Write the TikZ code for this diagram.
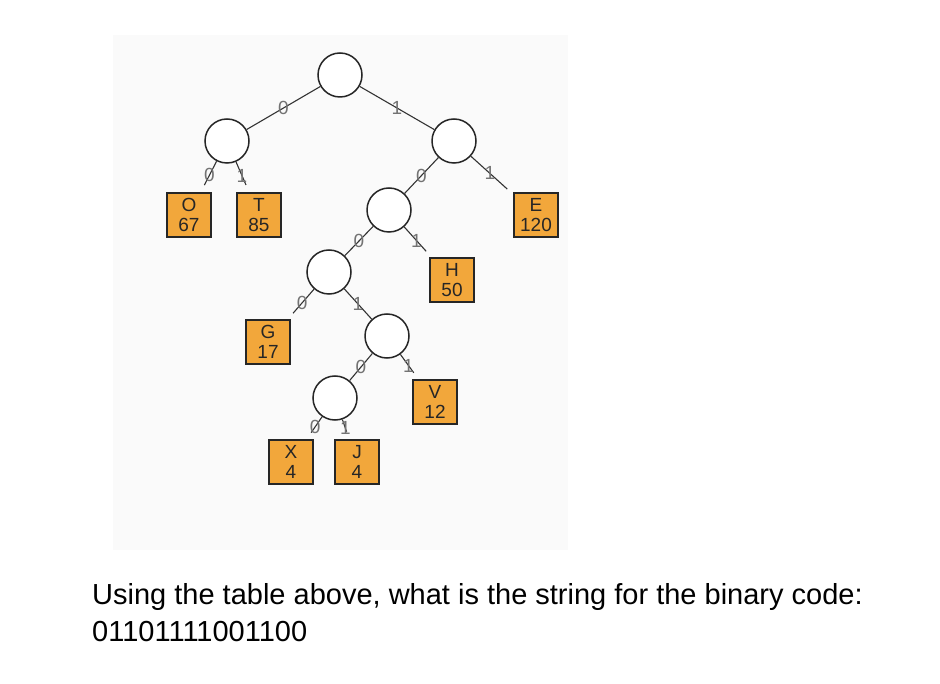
\documentclass[tikz,border=0pt]{standalone}
\usepackage{fontspec}
\setmainfont{Liberation Sans}
\usetikzlibrary{positioning}
\definecolor{leafbg}{HTML}{F2A73B}

\begin{document}
\begin{tikzpicture}[
            x=1pt, y=-1pt,
            inner/.style={circle, draw=black!85, fill=white, line width=1.5pt, minimum size=44pt, inner sep=0pt},
            leaf/.style={rectangle, draw=black!85, fill=leafbg, line width=1.5pt, minimum size=44pt, inner sep=0pt, align=center, font=\fontsize{19}{20}\selectfont, text=black!85},
            bit/.style={font=\fontsize{19}{19}\selectfont, text=black!55, inner sep=0pt},
            edge/.style={draw=black!80, line width=1.1pt}
        ]
            \useasboundingbox (0,0) rectangle (940,684);
            \fill[black!2] (113,35) rectangle (568,550);
            % Vertices
            \node[inner] (n0) at (340, 75) {};
            \node[inner] (n1) at (227,141) {};
            \node[inner] (n2) at (454,141) {};
            \node[inner] (n3) at (389,210) {};
            \node[inner] (n4) at (329,272) {};
            \node[inner] (n5) at (387,336) {};
            \node[inner] (n6) at (335,398) {};
            % Leaves
            \node[leaf] (o) at (189,215) {O\\67};
            \node[leaf] (t) at (259,215) {T\\85};
            \node[leaf] (e) at (536,215) {E\\120};
            \node[leaf] (h) at (452,280) {H\\50};
            \node[leaf] (g) at (268,342) {G\\17};
            \node[leaf] (v) at (435,402) {V\\12};
            \node[leaf] (x) at (291,462) {X\\4};
            \node[leaf] (j) at (357,462) {J\\4};
            % Edges
            \draw[edge] (n0) -- node[bit] {0} (n1);
            \draw[edge] (n0) -- node[bit] {1} (n2);
            \draw[edge, shorten >=8pt] (n1) -- node[bit, pos=0.45] {0} (o);
            \draw[edge, shorten >=8pt] (n1) -- node[bit, pos=0.45] {1} (t);
            \draw[edge] (n2) -- node[bit] {0} (n3);
            \draw[edge, shorten >=8pt] (n2) -- node[bit, pos=0.45] {1} (e);
            \draw[edge] (n3) -- node[bit] {0} (n4);
            \draw[edge, shorten >=8pt] (n3) -- node[bit, pos=0.45] {1} (h);
            \draw[edge, shorten >=8pt] (n4) -- node[bit, pos=0.45] {0} (g);
            \draw[edge] (n4) -- node[bit] {1} (n5);
            \draw[edge] (n5) -- node[bit] {0} (n6);
            \draw[edge, shorten >=8pt] (n5) -- node[bit, pos=0.45] {1} (v);
            \draw[edge, shorten >=8pt] (n6) -- node[bit, pos=0.45] {0} (x);
            \draw[edge, shorten >=8pt] (n6) -- node[bit, pos=0.45] {1} (j);
            % Question
            \node[anchor=west, inner sep=0pt, font=\fontsize{29}{29}\selectfont] (q1) at (92,597) {Using the table above, what is the string for the binary code:};
            \node[anchor=west, inner sep=0pt, font=\fontsize{29}{29}\selectfont] (q2) at (92,632) {01101111001100};
\end{tikzpicture}
\end{document}
